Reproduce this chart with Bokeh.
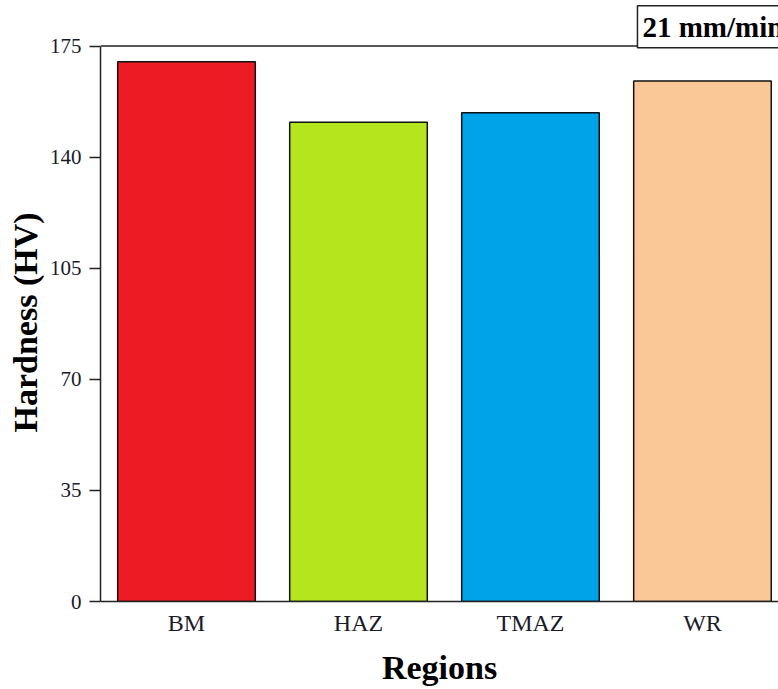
from bokeh.plotting import figure
from bokeh.models import Range1d, FixedTicker, Label, ColumnDataSource, Span, Title
from bokeh.embed import file_html
from bokeh.resources import INLINE

categories = ["BM", "HAZ", "TMAZ", "WR"]
hardness = [170, 151, 154, 164]
colors = ["#ED1C24", "#B5E61D", "#00A2E8", "#FAC896"]
y_ticks = [0, 35, 70, 105, 140, 175]
speed_label = "21 mm/min"
y_title = "Hardness (HV)"
x_title = "Regions"

FONT = "Liberation Serif"
Y_MAX = 175

xpos = list(range(len(categories)))
src = ColumnDataSource(dict(x=xpos, top=hardness, color=colors, cat=categories))

# frame spans full canvas height above the axis; the axis/top line stop at Y_MAX
p = figure(width=778, height=689, output_backend="svg", toolbar_location=None,
           x_range=Range1d(-0.5, 3.442), y_range=Range1d(0, Y_MAX * 601 / 555.5),
           min_border_left=100, min_border_right=0, min_border_top=0, min_border_bottom=88)

p.vbar(x="x", top="top", width=0.8, bottom=0, source=src, fill_color="color",
       line_color="#111111", line_width=1.5)

p.outline_line_color = None
p.xgrid.grid_line_color = None
p.ygrid.grid_line_color = None
p.background_fill_color = "white"
p.border_fill_color = "white"

# y axis
ya = p.yaxis[0]
ya.ticker = FixedTicker(ticks=y_ticks)
ya.bounds = (0, Y_MAX)
ya.minor_tick_line_color = None
ya.major_tick_in = 0
ya.major_tick_out = 11
ya.major_tick_line_width = 1.5
ya.major_tick_line_color = "#222222"
ya.axis_line_width = 1.5
ya.axis_line_color = "#222222"
ya.major_label_text_font = FONT
ya.major_label_text_font_size = "21px"
ya.major_label_text_color = "#1a1a2a"
ya.major_label_standoff = 8

# y title as a left-side title, placed from the bottom end of the axis
yt = Title(text=y_title, align="left", offset=169, standoff=6,
           text_font=FONT, text_font_size="34px", text_font_style="bold",
           text_color="black")
p.add_layout(yt, "left")

# x axis
xa = p.xaxis[0]
xa.ticker = FixedTicker(ticks=xpos)
xa.major_label_overrides = {i: c for i, c in zip(xpos, categories)}
xa.minor_tick_line_color = None
xa.major_tick_in = 0
xa.major_tick_out = 0
xa.axis_line_width = 1.5
xa.axis_line_color = "#222222"
xa.major_label_text_font = FONT
xa.major_label_text_font_size = "24px"
xa.major_label_text_color = "#1a1a2a"
xa.major_label_standoff = 8
xa.axis_label = x_title
xa.axis_label_text_font = FONT
xa.axis_label_text_font_size = "34px"
xa.axis_label_text_font_style = "bold"
xa.axis_label_text_color = "black"
xa.axis_label_standoff = 10

# top frame line at the axis maximum
p.add_layout(Span(location=Y_MAX, dimension="width", line_color="#222222", line_width=1.5))

lab = Label(x=2.622, y=181.1, text=speed_label, text_font=FONT, text_font_size="29px",
            text_font_style="bold", text_color="black", text_align="left",
            text_baseline="middle", border_line_color="#222222", border_line_width=1.5,
            background_fill_color="white", padding=5)
p.add_layout(lab)

open("out.html", "w").write(file_html(p, INLINE))
